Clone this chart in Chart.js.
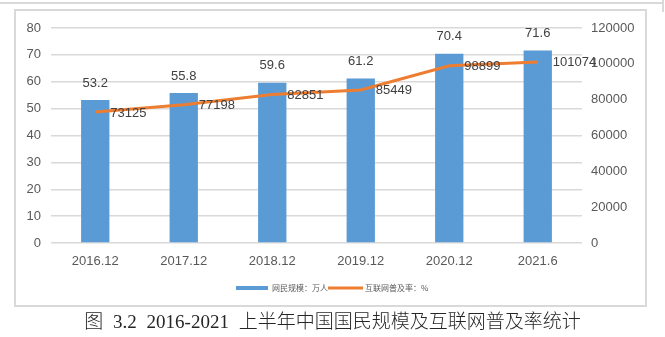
<!DOCTYPE html>
<html>
<head>
<meta charset="utf-8">
<script src="https://cdn.jsdelivr.net/npm/chart.js@4"></script>
<style>
    body { margin: 0; background: #fff; }
    #wrap { position: relative; width: 665px; height: 337px; }
    #myChart { position: absolute; left: 0; top: 0; }
    #caption {
        position: absolute; left: 0; top: 310px; width: 665px;
        text-align: center; font: 300 19px "Liberation Serif", "Noto Sans CJK SC", serif;
        word-spacing: 5px; color: #262626; line-height: 24px;
    }
</style>
</head>
<body>
<div id="wrap">
    <canvas id="myChart" width="665" height="337"></canvas>
    <div id="caption">图 3.2 2016-2021 上半年中国国民规模及互联网普及率统计</div>
</div>
<script>
// categories and series
var years = ['2016.12', '2017.12', '2018.12', '2019.12', '2020.12', '2021.6'];
var barValues = [53.2, 55.8, 59.6, 61.2, 70.4, 71.6];
var lineValues = [73125, 77198, 82851, 85449, 98899, 101074];
var barLabel = '网民规模：万人';
var lineLabel = '互联网普及率：%';
var leftTicks = [0, 10, 20, 30, 40, 50, 60, 70, 80];
var rightTicks = [0, 20000, 40000, 60000, 80000, 100000, 120000];

var tickFont = { family: '"Liberation Sans", Arial, sans-serif', size: 13 };

// frame lines, value labels and the little legend underneath
var decorPlugin = {
    id: 'decor',
    beforeDraw: function (chart) {
        var c = chart.ctx;
        c.save();
        c.strokeStyle = '#D9D9D9';
        c.lineWidth = 2;
        c.beginPath();
        c.moveTo(0, 3); c.lineTo(663, 3);
        c.moveTo(663, 0); c.lineTo(663, 12);
        c.stroke();
        c.strokeRect(15, 10, 631, 296);
        c.restore();
    },
    afterDatasetsDraw: function (chart) {
        var c = chart.ctx;
        c.save();
        c.font = '13px "Liberation Sans", Arial, sans-serif';
        c.fillStyle = '#404040';
        c.textBaseline = 'middle';

        var bars = chart.getDatasetMeta(0).data;
        c.textAlign = 'center';
        bars.forEach(function (bar, i) {
            c.fillText(barValues[i], bar.x, bar.y - 17);
        });

        var pts = chart.getDatasetMeta(1).data;
        c.textAlign = 'left';
        pts.forEach(function (p, i) {
            c.fillText(lineValues[i], p.x + 15, p.y + 1);
        });

        // legend
        c.fillStyle = '#5B9BD5';
        c.fillRect(236, 286, 32, 4);
        c.strokeStyle = '#ED7D31';
        c.lineWidth = 3;
        c.beginPath();
        c.moveTo(328, 288); c.lineTo(363, 288);
        c.stroke();
        c.font = '8px "Noto Sans CJK SC", sans-serif';
        c.fillStyle = '#595959';
        c.fillText(barLabel, 272, 288);
        c.fillText(lineLabel, 365, 288);
        c.restore();
    }
};

const ctx = document.getElementById('myChart').getContext('2d');

var myChart = new Chart(ctx, {
    type: 'bar',
    data: {
        labels: years,
        datasets: [{
            type: 'bar',
            label: barLabel,
            data: barValues,
            backgroundColor: '#5B9BD5',
            borderWidth: 0,
            barPercentage: 0.32,
            categoryPercentage: 1,
            yAxisID: 'y',
            order: 1
        }, {
            type: 'line',
            label: lineLabel,
            data: lineValues,
            borderColor: '#ED7D31',
            borderWidth: 3,
            pointRadius: 0,
            tension: 0,
            yAxisID: 'y1',
            order: 0
        }]
    },
    options: {
        responsive: false,
        animation: false,
        layout: { padding: { top: 28, left: 0, right: 0, bottom: 0 } },
        plugins: {
            legend: { display: false },
            tooltip: { enabled: false }
        },
        scales: {
            x: {
                grid: { display: false, drawTicks: false },
                border: { display: false },
                ticks: { color: '#595959', font: tickFont, padding: 11 },
                afterFit: function (scale) { scale.height = 94; }
            },
            y: {
                position: 'left',
                min: 0,
                max: 80,
                afterBuildTicks: function (scale) {
                    scale.ticks = leftTicks.map(function (v) { return { value: v }; });
                },
                grid: { color: '#D9D9D9', lineWidth: 1.5, drawTicks: false },
                border: { display: false },
                ticks: { color: '#595959', font: tickFont, padding: 10 },
                afterFit: function (scale) { scale.width = 51; }
            },
            y1: {
                position: 'right',
                min: 0,
                max: 120000,
                afterBuildTicks: function (scale) {
                    scale.ticks = rightTicks.map(function (v) { return { value: v }; });
                },
                grid: { display: false, drawTicks: false },
                border: { display: false },
                ticks: {
                    color: '#595959', font: tickFont, padding: 9,
                    callback: function (v) { return String(v); }
                },
                afterFit: function (scale) { scale.width = 83; }
            }
        }
    },
    plugins: [decorPlugin]
});
</script>
</body>
</html>
